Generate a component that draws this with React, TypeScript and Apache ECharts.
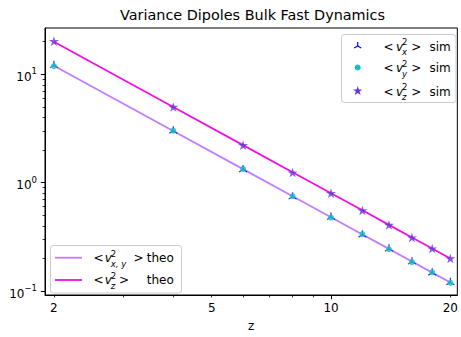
import React, { useEffect, useRef } from "react";
import * as echarts from "echarts";

// ---- data ----
const zValues = [2, 4, 6, 8, 10, 12, 14, 16, 18, 20];
const vxSim = [12.1, 3.0, 1.32, 0.74, 0.48, 0.33, 0.245, 0.186, 0.147, 0.12];
const vySim = [11.9, 3.02, 1.34, 0.75, 0.475, 0.335, 0.243, 0.185, 0.149, 0.119];
const vzSim = [20.2, 5.0, 2.22, 1.24, 0.8, 0.555, 0.408, 0.312, 0.247, 0.2];
const vxyTheo = [12, 3.0, 1.333, 0.75, 0.48, 0.333, 0.245, 0.1875, 0.148, 0.12];
const vzTheo = [20, 5.0, 2.222, 1.25, 0.8, 0.556, 0.408, 0.3125, 0.247, 0.2];

const xTickLabels = [2, 5, 10, 20];
const xMajorTicks = [10];
const xMinorTicks = [2, 3, 4, 5, 6, 7, 8, 9, 20];
const yTickLabels = [0.1, 1, 10];
const yMinorTicks = [0.2, 0.3, 0.4, 0.5, 0.6, 0.7, 0.8, 0.9, 2, 3, 4, 5, 6, 7, 8, 9, 20];

// axis extents in log10 units
const X_MIN = 0.2785;
const X_MAX = 1.3186;
const Y_MIN = -1.0364;
const Y_MAX = 1.4273;

const FONT = "'DejaVu Sans', sans-serif";
const lg = (v: number) => Math.log10(v);
const pts = (xs: number[], ys: number[]) => xs.map((x, i) => [lg(x), lg(ys[i])]);

const STAR =
  "path://M0,-1 L0.2245,-0.309 L0.951,-0.309 L0.363,0.118 L0.588,0.809 L0,0.382 L-0.588,0.809 L-0.363,0.118 L-0.951,-0.309 L-0.2245,-0.309 Z";
const TRI = "path://M0,0 L0,-1 M0,0 L-0.866,0.5 M0,0 L0.866,0.5";
const starPts = [
  [0, -1], [0.2245, -0.309], [0.951, -0.309], [0.363, 0.118], [0.588, 0.809],
  [0, 0.382], [-0.588, 0.809], [-0.363, 0.118], [-0.951, -0.309], [-0.2245, -0.309],
];

const C_TRI = "#0000ff";
const C_CIRC = "#14bfbf";
const C_STAR = "#6633dd";
const C_XY = "#c07dff";
const C_Z = "#f010e0";

function txt(x: number, y: number, text: string, size = 12, italic = false, align = "left") {
  return {
    type: "text",
    x,
    y,
    silent: true,
    z: 100,
    style: {
      text,
      fontSize: size,
      fontFamily: FONT,
      fontStyle: italic ? "italic" : "normal",
      fill: "#000",
      align,
      verticalAlign: "middle",
    },
  };
}

function mathRow(lt: number, vx: number, sx: number, sub: string, gt: number, y: number, word: string, wx: number) {
  return [
    txt(lt, y, "<"),
    txt(vx, y, "v", 12, true),
    txt(sx, y - 4.5, "2", 8.5),
    txt(sx, y + 5.5, sub, 8.5, true),
    txt(gt, y, ">"),
    txt(wx, y, word),
  ];
}

export default function App() {
  const ref = useRef<HTMLDivElement>(null);
  useEffect(() => {
    if (!ref.current) return;
    const chart = echarts.init(ref.current, undefined, { renderer: "svg" });
    const axisText = { color: "#000", fontSize: 12, fontFamily: FONT };

    const lx = 357.7;
    const graphic: any[] = [
      txt(252.5, 15, "Variance Dipoles Bulk Fast Dynamics", 14.4, false, "center"),
      // upper-right legend
      {
        type: "rect",
        z: 99,
        shape: { x: 341.5, y: 34.5, width: 114.5, height: 68, r: 3 },
        style: { fill: "rgba(255,255,255,0.8)", stroke: "#cccccc", lineWidth: 1 },
      },
      { type: "line", z: 100, shape: { x1: lx, y1: 46, x2: lx, y2: 42 }, style: { stroke: C_TRI, lineWidth: 1.2 } },
      { type: "line", z: 100, shape: { x1: lx, y1: 46, x2: lx - 3.5, y2: 48 }, style: { stroke: C_TRI, lineWidth: 1.2 } },
      { type: "line", z: 100, shape: { x1: lx, y1: 46, x2: lx + 3.5, y2: 48 }, style: { stroke: C_TRI, lineWidth: 1.2 } },
      { type: "circle", z: 100, shape: { cx: lx, cy: 67.5, r: 3 }, style: { fill: C_CIRC } },
      {
        type: "polygon",
        z: 100,
        shape: { points: starPts.map(([a, b]) => [lx + a * 5, 91 + b * 5]) },
        style: { fill: C_STAR },
      },
      ...mathRow(383.6, 396, 402, "x", 411.3, 46.5, "sim", 429.4),
      ...mathRow(383.6, 396, 402, "y", 411.3, 68, "sim", 429.4),
      ...mathRow(383.6, 396, 402, "z", 411.3, 91.5, "sim", 429.4),
      // lower-left legend
      {
        type: "rect",
        z: 99,
        shape: { x: 50.5, y: 245.5, width: 131, height: 47.5, r: 3 },
        style: { fill: "rgba(255,255,255,0.8)", stroke: "#cccccc", lineWidth: 1 },
      },
      { type: "line", z: 100, shape: { x1: 55, y1: 257.7, x2: 82, y2: 257.7 }, style: { stroke: C_XY, lineWidth: 1.8 } },
      { type: "line", z: 100, shape: { x1: 55, y1: 280, x2: 82, y2: 280 }, style: { stroke: C_Z, lineWidth: 1.8 } },
      ...mathRow(93.6, 104.8, 110.8, "x, y", 133.6, 258, "theo", 146.8),
      ...mathRow(93.6, 104.8, 110.8, "z", 119, 280.3, "theo", 146.8),
    ];

    const option: any = {
      animation: false,
      backgroundColor: "#fff",
      grid: {
        left: 45,
        top: 28,
        width: 415,
        height: 271,
        show: true,
        borderColor: "#000",
        borderWidth: 1,
        backgroundColor: "transparent",
        containLabel: false,
      },
      xAxis: [
        {
          type: "value",
          min: X_MIN,
          max: X_MAX,
          position: "bottom",
          axisLine: { show: true, onZero: false, lineStyle: { color: "#000", width: 1 } },
          axisTick: { show: true, customValues: xMajorTicks.map(lg), length: 4.2, lineStyle: { color: "#000", width: 1 } },
          axisLabel: {
            customValues: xTickLabels.map(lg),
            formatter: (v: number) => String(Math.round(Math.pow(10, v))),
            margin: 7,
            ...axisText,
          },
          splitLine: { show: false },
          name: "z",
          nameLocation: "middle",
          nameGap: 25,
          nameTextStyle: axisText,
        },
        {
          type: "value",
          min: X_MIN,
          max: X_MAX,
          position: "bottom",
          axisLine: { show: false, onZero: false },
          axisTick: { show: true, customValues: xMinorTicks.map(lg), length: 2.4, lineStyle: { color: "#000", width: 0.8 } },
          axisLabel: { show: false },
          splitLine: { show: false },
        },
      ],
      yAxis: [
        {
          type: "value",
          min: Y_MIN,
          max: Y_MAX,
          position: "left",
          axisLine: { show: true, onZero: false, lineStyle: { color: "#000", width: 1 } },
          axisTick: { show: true, customValues: yTickLabels.map(lg), length: 4.2, lineStyle: { color: "#000", width: 1 } },
          axisLabel: {
            customValues: yTickLabels.map(lg),
            formatter: (v: number) => {
              const e = Math.round(v);
              return `{b|10}{s|${e < 0 ? "\u2212" + Math.abs(e) : e}}`;
            },
            margin: 8,
            rich: {
              b: { fontSize: 12, fontFamily: FONT, color: "#000", padding: [5, 0, 0, 0] },
              s: { fontSize: 8.5, fontFamily: FONT, color: "#000", padding: [0, 0, 6, 0] },
            },
            ...axisText,
          },
          splitLine: { show: false },
        },
        {
          type: "value",
          min: Y_MIN,
          max: Y_MAX,
          position: "left",
          axisLine: { show: false, onZero: false },
          axisTick: { show: true, customValues: yMinorTicks.map(lg), length: 2.4, lineStyle: { color: "#000", width: 0.8 } },
          axisLabel: { show: false },
          splitLine: { show: false },
        },
      ],
      series: [
        {
          name: "<vxy2> theo",
          type: "line",
          data: pts(zValues, vxyTheo),
          showSymbol: false,
          symbol: "none",
          lineStyle: { color: C_XY, width: 1.8 },
          z: 2,
        },
        {
          name: "<vz2> theo",
          type: "line",
          data: pts(zValues, vzTheo),
          showSymbol: false,
          symbol: "none",
          lineStyle: { color: C_Z, width: 1.8 },
          z: 2,
        },
        {
          name: "<vx2> sim",
          type: "scatter",
          data: pts(zValues, vxSim),
          symbol: TRI,
          symbolSize: [8, 7],
          symbolOffset: [0, -1.2],
          itemStyle: { color: "none", borderColor: C_TRI, borderWidth: 1.2 },
          z: 3,
        },
        {
          name: "<vy2> sim",
          type: "scatter",
          data: pts(zValues, vySim),
          symbol: "circle",
          symbolSize: 6,
          itemStyle: { color: C_CIRC },
          z: 4,
        },
        {
          name: "<vz2> sim",
          type: "scatter",
          data: pts(zValues, vzSim),
          symbol: STAR,
          symbolSize: [10, 9.5],
          itemStyle: { color: C_STAR },
          z: 5,
        },
      ],
      graphic,
    };
    chart.setOption(option);
    return () => chart.dispose();
  }, []);

  return (
    <div
      ref={ref}
      style={{ position: "fixed", left: 0, top: 0, width: 461, height: 337, background: "#fff" }}
    />
  );
}
